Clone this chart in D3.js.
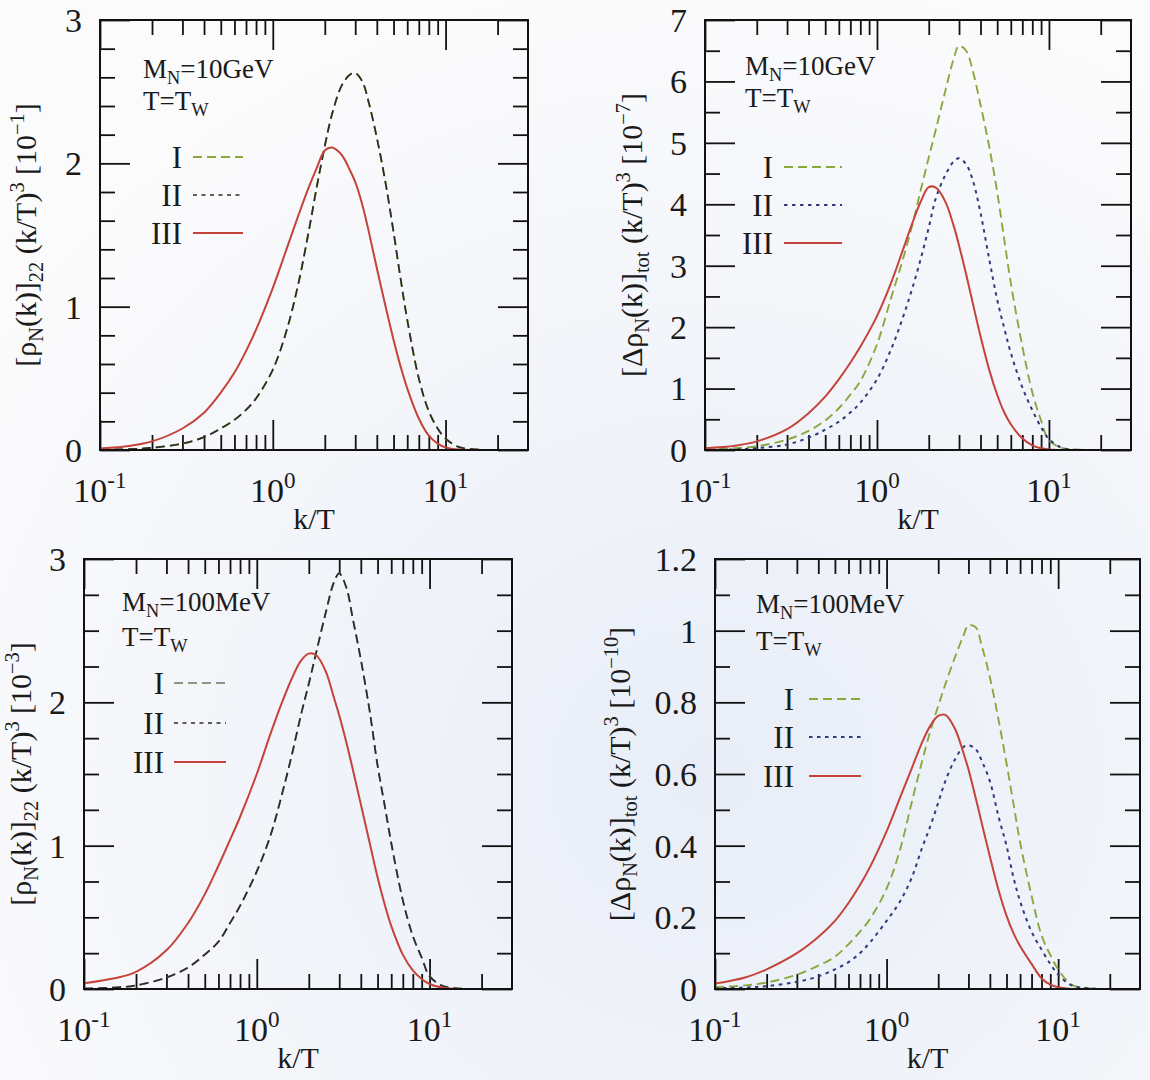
<!DOCTYPE html>
<html>
<head>
<meta charset="utf-8">
<script src="https://cdn.jsdelivr.net/npm/d3@7"></script>
<style>
  html, body { margin: 0; padding: 0; }
  body { width: 1150px; height: 1080px; overflow: hidden; background: #fafbfc; }
  svg text { font-family: "Liberation Serif", "Times New Roman", serif; fill: #1a1a1a; }
</style>
</head>
<body>
<svg id="fig" width="1150" height="1080"></svg>
<script>
// momentum grid k/T shared by all curves
const kGrid = [0.1, 0.15, 0.2, 0.3, 0.4, 0.5, 0.6, 0.7, 0.8, 1.0, 1.2, 1.4, 1.6, 1.8, 2.0, 2.2, 2.5, 2.8, 3.0,
               3.3, 3.6, 4.0, 4.5, 5.0, 5.5, 6.0, 7.0, 8.0, 9.0, 10, 12, 15, 20, 30];

// [rho_N(k)]_22 (k/T)^3, M_N = 10 GeV, units of 1e-1 (I and II coincide)
const rho22_10GeV_I   = [0.002, 0.006, 0.015, 0.045, 0.09, 0.15, 0.21, 0.28, 0.36, 0.56, 0.83, 1.15, 1.50, 1.84, 2.12, 2.34, 2.54, 2.62, 2.63,
                         2.57, 2.42, 2.18, 1.86, 1.52, 1.19, 0.91, 0.50, 0.27, 0.15, 0.08, 0.02, 0.004, 0, 0];
const rho22_10GeV_II  = rho22_10GeV_I.slice();
const rho22_10GeV_III = [0.01, 0.03, 0.06, 0.15, 0.26, 0.40, 0.54, 0.69, 0.84, 1.13, 1.40, 1.63, 1.82, 1.97, 2.09, 2.11, 2.06, 1.95, 1.87,
                         1.71, 1.52, 1.27, 1.00, 0.77, 0.58, 0.43, 0.22, 0.10, 0.045, 0.018, 0.003, 0, 0, 0];

// [Delta rho_N(k)]_tot (k/T)^3, M_N = 10 GeV, units of 1e-7
const drho_10GeV_I   = [0.01, 0.03, 0.06, 0.17, 0.31, 0.48, 0.68, 0.90, 1.12, 1.72, 2.45, 3.06, 3.65, 4.24, 4.76, 5.22, 5.85, 6.38, 6.58,
                        6.50, 6.18, 5.62, 4.93, 4.20, 3.42, 2.72, 1.69, 0.94, 0.48, 0.16, 0.03, 0.005, 0, 0];
const drho_10GeV_II  = [0.003, 0.01, 0.03, 0.09, 0.20, 0.33, 0.46, 0.61, 0.77, 1.15, 1.62, 2.12, 2.62, 3.12, 3.62, 4.10, 4.48, 4.70, 4.75,
                        4.65, 4.40, 3.86, 3.10, 2.45, 1.98, 1.58, 1.02, 0.65, 0.37, 0.18, 0.03, 0.003, 0, 0];
const drho_10GeV_III = [0.03, 0.07, 0.14, 0.34, 0.60, 0.87, 1.15, 1.42, 1.68, 2.18, 2.70, 3.22, 3.68, 4.05, 4.28, 4.27, 4.04, 3.64, 3.33,
                        2.86, 2.40, 1.85, 1.30, 0.90, 0.61, 0.42, 0.19, 0.075, 0.028, 0.01, 0, 0, 0, 0];

// [rho_N(k)]_22 (k/T)^3, M_N = 100 MeV, units of 1e-3 (I and II coincide)
const rho22_100MeV_I   = [0.003, 0.01, 0.025, 0.08, 0.15, 0.24, 0.33, 0.46, 0.58, 0.82, 1.07, 1.36, 1.64, 1.91, 2.13, 2.34, 2.62, 2.84, 2.90,
                          2.80, 2.58, 2.30, 1.94, 1.56, 1.28, 1.02, 0.62, 0.37, 0.22, 0.09, 0.02, 0.003, 0, 0];
const rho22_100MeV_II  = rho22_100MeV_I.slice();
const rho22_100MeV_III = [0.04, 0.075, 0.12, 0.27, 0.46, 0.66, 0.86, 1.04, 1.20, 1.50, 1.78, 2.00, 2.17, 2.29, 2.34, 2.33, 2.22, 2.03, 1.91,
                          1.72, 1.53, 1.29, 1.02, 0.78, 0.59, 0.44, 0.24, 0.13, 0.07, 0.035, 0.008, 0, 0, 0];

// [Delta rho_N(k)]_tot (k/T)^3, M_N = 100 MeV, units of 1e-10
const drho_100MeV_I   = [0.005, 0.01, 0.018, 0.04, 0.065, 0.09, 0.125, 0.16, 0.195, 0.28, 0.39, 0.52, 0.63, 0.72, 0.79, 0.85, 0.925, 0.985, 1.015,
                         1.01, 0.955, 0.87, 0.75, 0.63, 0.515, 0.41, 0.26, 0.15, 0.095, 0.055, 0.012, 0.002, 0, 0];
const drho_100MeV_II  = [0.002, 0.004, 0.008, 0.02, 0.035, 0.055, 0.075, 0.10, 0.13, 0.19, 0.245, 0.31, 0.39, 0.455, 0.52, 0.58, 0.64, 0.675, 0.68,
                         0.67, 0.635, 0.58, 0.48, 0.40, 0.31, 0.245, 0.16, 0.11, 0.07, 0.04, 0.01, 0.002, 0, 0];
const drho_100MeV_III = [0.015, 0.032, 0.055, 0.10, 0.145, 0.19, 0.24, 0.29, 0.34, 0.44, 0.535, 0.615, 0.685, 0.735, 0.762, 0.765, 0.727, 0.66, 0.613,
                         0.535, 0.46, 0.37, 0.275, 0.205, 0.155, 0.12, 0.07, 0.03, 0.012, 0.005, 0, 0, 0, 0];

// axis ranges and tick labels
const xDomain = [0.1, 30];
const xMajorTicks = [0.1, 1, 10];
const xTickExponents = ["-1", "0", "1"];
const legendNames = ["I", "II", "III"];

// ---------------------------------------------------------------------------
const svg = d3.select("#fig");
const defs = svg.append("defs");

// pale page tint behind the figure
const grad = defs.append("radialGradient").attr("id", "paper")
  .attr("cx", "62%").attr("cy", "72%").attr("r", "75%");
grad.append("stop").attr("offset", "0%").attr("stop-color", "#e8edf7");
grad.append("stop").attr("offset", "100%").attr("stop-color", "#fbfbfc");
svg.append("rect").attr("width", 1150).attr("height", 1080).attr("fill", "url(#paper)");

const styles = {
  green:  { stroke: "#8aa83e", width: 1.9, dash: "9,5" },
  gray:   { stroke: "#8d9585", width: 1.9, dash: "9,5" },
  black:  { stroke: "#2b2b2b", width: 1.7, dash: "9,5" },
  blackS: { stroke: "#2b2b2b", width: 1.7, dash: "4,4.5" },
  blue:   { stroke: "#2c3c7c", width: 2.0, dash: "3.5,4.5" },
  red:    { stroke: "#c4433a", width: 2.0, dash: null }
};

const panels = [
  { id: "a", x0: 100, x1: 528, y0: 20, y1: 450, yMax: 3, yMajor: 1, yMinor: 0.2,
    ylabX: 36, mass: "10GeV",
    ylab: [["[ρ"], ["N", "sub"], ["(k)]"], ["22", "sub"], [" (k/T)"], ["3", "sup"], ["  [10"], ["−1", "sup"], ["]"]],
    series: [rho22_10GeV_I, rho22_10GeV_II, rho22_10GeV_III],
    draw: [styles.green, styles.black, styles.red],
    legend: [styles.green, styles.blackS, styles.red],
    ann: { dx: 43, dy1: 58, dy2: 90 },
    leg: { tx: 82, l1: 93, l2: 143, rows: [137, 175, 213] } },
  { id: "b", x0: 705, x1: 1131, y0: 20, y1: 450, yMax: 7, yMajor: 1, yMinor: 0.5,
    ylabX: 642, mass: "10GeV",
    ylab: [["[Δρ"], ["N", "sub"], ["(k)]"], ["tot", "sub"], [" (k/T)"], ["3", "sup"], [" [10"], ["−7", "sup"], ["]"]],
    series: [drho_10GeV_I, drho_10GeV_II, drho_10GeV_III],
    draw: [styles.green, styles.blue, styles.red],
    legend: [styles.green, styles.blue, styles.red],
    ann: { dx: 40, dy1: 55, dy2: 87 },
    leg: { tx: 68, l1: 79, l2: 137, rows: [147, 185, 223] } },
  { id: "c", x0: 84, x1: 512, y0: 559, y1: 989, yMax: 3, yMajor: 1, yMinor: 0.25,
    ylabX: 31, mass: "100MeV",
    ylab: [["[ρ"], ["N", "sub"], ["(k)]"], ["22", "sub"], [" (k/T)"], ["3", "sup"], ["  [10"], ["−3", "sup"], ["]"]],
    series: [rho22_100MeV_I, rho22_100MeV_II, rho22_100MeV_III],
    draw: [styles.gray, styles.black, styles.red],
    legend: [styles.gray, styles.blackS, styles.red],
    ann: { dx: 38, dy1: 52, dy2: 87 },
    leg: { tx: 80, l1: 90, l2: 142, rows: [124, 164, 203] } },
  { id: "d", x0: 715, x1: 1140, y0: 559, y1: 989, yMax: 1.2, yMajor: 0.2, yMinor: 0.1,
    ylabX: 630, mass: "100MeV",
    ylab: [["[Δρ"], ["N", "sub"], ["(k)]"], ["tot", "sub"], [" (k/T)"], ["3", "sup"], [" [10"], ["−10", "sup"], ["]"]],
    series: [drho_100MeV_I, drho_100MeV_II, drho_100MeV_III],
    draw: [styles.green, styles.blue, styles.red],
    legend: [styles.green, styles.blue, styles.red],
    ann: { dx: 41, dy1: 54, dy2: 91 },
    leg: { tx: 79, l1: 94, l2: 146, rows: [140, 178, 217] } }
];

// text with sub/superscript pieces
function richText(sel, parts, size) {
  let off = 0;
  parts.forEach(([t, mode]) => {
    const fs = mode ? size * 0.68 : size;
    const target = mode === "sub" ? size * 0.22 : mode === "sup" ? -size * 0.40 : 0;
    sel.append("tspan").attr("font-size", fs).attr("dy", target - off).text(t);
    off = target;
  });
}

function seriesPoints(vals) {
  return kGrid.map((k, i) => ({ k, v: vals[i] }));
}

panels.forEach(p => {
  const g = svg.append("g").attr("class", "panel-" + p.id);
  const x = d3.scaleLog().domain(xDomain).range([p.x0, p.x1]);
  const y = d3.scaleLinear().domain([0, p.yMax]).range([p.y1, p.y0]);
  const W = p.x1 - p.x0, H = p.y1 - p.y0;

  // tick values
  const xMinor = [];
  [0.1, 1, 10].forEach(dec => d3.range(2, 10).forEach(m => { const v = dec * m; if (v < 30) xMinor.push(v); }));
  const nMaj = Math.round(p.yMax / p.yMajor);
  const yMaj = d3.range(0, nMaj + 1).map(i => +(i * p.yMajor).toFixed(4));
  const nMin = Math.round(p.yMax / p.yMinor);
  const yMin = d3.range(0, nMin + 1).map(i => +(i * p.yMinor).toFixed(4))
    .filter(v => !yMaj.some(m => Math.abs(m - v) < 1e-6));

  const tickStyle = s => s.call(a => a.select(".domain").remove())
    .call(a => a.selectAll(".tick line").attr("stroke", "#111").attr("stroke-width", 1.8))
    .call(a => a.selectAll(".tick text").remove());

  const mk = (axisFn, scale, vals, len, tr) =>
    g.append("g").attr("transform", tr)
      .call(axisFn(scale).tickValues(vals).tickSize(-len).tickFormat(() => ""))
      .call(tickStyle);

  // inward ticks on all four sides
  mk(d3.axisBottom, x, xMajorTicks, 30, `translate(0,${p.y1})`);
  mk(d3.axisBottom, x, xMinor, 15, `translate(0,${p.y1})`);
  mk(d3.axisTop, x, xMajorTicks, 30, `translate(0,${p.y0})`);
  mk(d3.axisTop, x, xMinor, 15, `translate(0,${p.y0})`);
  mk(d3.axisLeft, y, yMaj, 30, `translate(${p.x0},0)`);
  mk(d3.axisLeft, y, yMin, 15, `translate(${p.x0},0)`);
  mk(d3.axisRight, y, yMaj, 30, `translate(${p.x1},0)`);
  mk(d3.axisRight, y, yMin, 15, `translate(${p.x1},0)`);

  // curves
  const clipId = "clip-" + p.id;
  defs.append("clipPath").attr("id", clipId)
    .append("rect").attr("x", p.x0).attr("y", p.y0 - 2).attr("width", W).attr("height", H + 1);
  const line = d3.line().x(d => x(d.k)).y(d => y(d.v)).curve(d3.curveCatmullRom.alpha(0.5));
  const cg = g.append("g").attr("clip-path", `url(#${clipId})`);
  p.series.forEach((vals, i) => {
    const st = p.draw[i];
    cg.append("path").datum(seriesPoints(vals))
      .attr("fill", "none").attr("stroke", st.stroke).attr("stroke-width", st.width)
      .attr("stroke-dasharray", st.dash).attr("stroke-linejoin", "round")
      .attr("d", line);
  });

  // frame
  g.append("rect").attr("x", p.x0).attr("y", p.y0).attr("width", W).attr("height", H)
    .attr("fill", "none").attr("stroke", "#111").attr("stroke-width", 2);

  // y tick labels
  yMaj.forEach(v => {
    g.append("text").attr("x", p.x0 - 18).attr("y", y(v)).attr("dy", "0.35em")
      .attr("text-anchor", "end").attr("font-size", 34).text(d3.format("~g")(v));
  });

  // x tick labels 10^n
  xMajorTicks.forEach((v, i) => {
    const t = g.append("text").attr("x", x(v)).attr("y", p.y1 + 52)
      .attr("text-anchor", "middle").attr("font-size", 34);
    richText(t, [["10"], [xTickExponents[i], "sup"]], 34);
  });

  // x axis title
  g.append("text").attr("x", (p.x0 + p.x1) / 2).attr("y", p.y1 + 79)
    .attr("text-anchor", "middle").attr("font-size", 30).text("k/T");

  // y axis title
  const yt = g.append("text")
    .attr("transform", `translate(${p.ylabX},${(p.y0 + p.y1) / 2}) rotate(-90)`)
    .attr("text-anchor", "middle").attr("dy", "0.35em").attr("font-size", 30);
  richText(yt, p.ylab, 30);

  // mass / temperature annotation
  const a1 = g.append("text").attr("x", p.x0 + p.ann.dx).attr("y", p.y0 + p.ann.dy1).attr("font-size", 27);
  richText(a1, [["M"], ["N", "sub"], ["=" + p.mass]], 27);
  const a2 = g.append("text").attr("x", p.x0 + p.ann.dx).attr("y", p.y0 + p.ann.dy2).attr("font-size", 27);
  richText(a2, [["T=T"], ["W", "sub"]], 27);

  // legend
  legendNames.forEach((name, i) => {
    const ly = p.y0 + p.leg.rows[i];
    g.append("text").attr("x", p.x0 + p.leg.tx).attr("y", ly).attr("dy", "0.35em")
      .attr("text-anchor", "end").attr("font-size", 31).text(name);
    const st = p.legend[i];
    g.append("line").attr("x1", p.x0 + p.leg.l1).attr("x2", p.x0 + p.leg.l2)
      .attr("y1", ly).attr("y2", ly)
      .attr("stroke", st.stroke).attr("stroke-width", st.width).attr("stroke-dasharray", st.dash);
  });
});
</script>
</body>
</html>
